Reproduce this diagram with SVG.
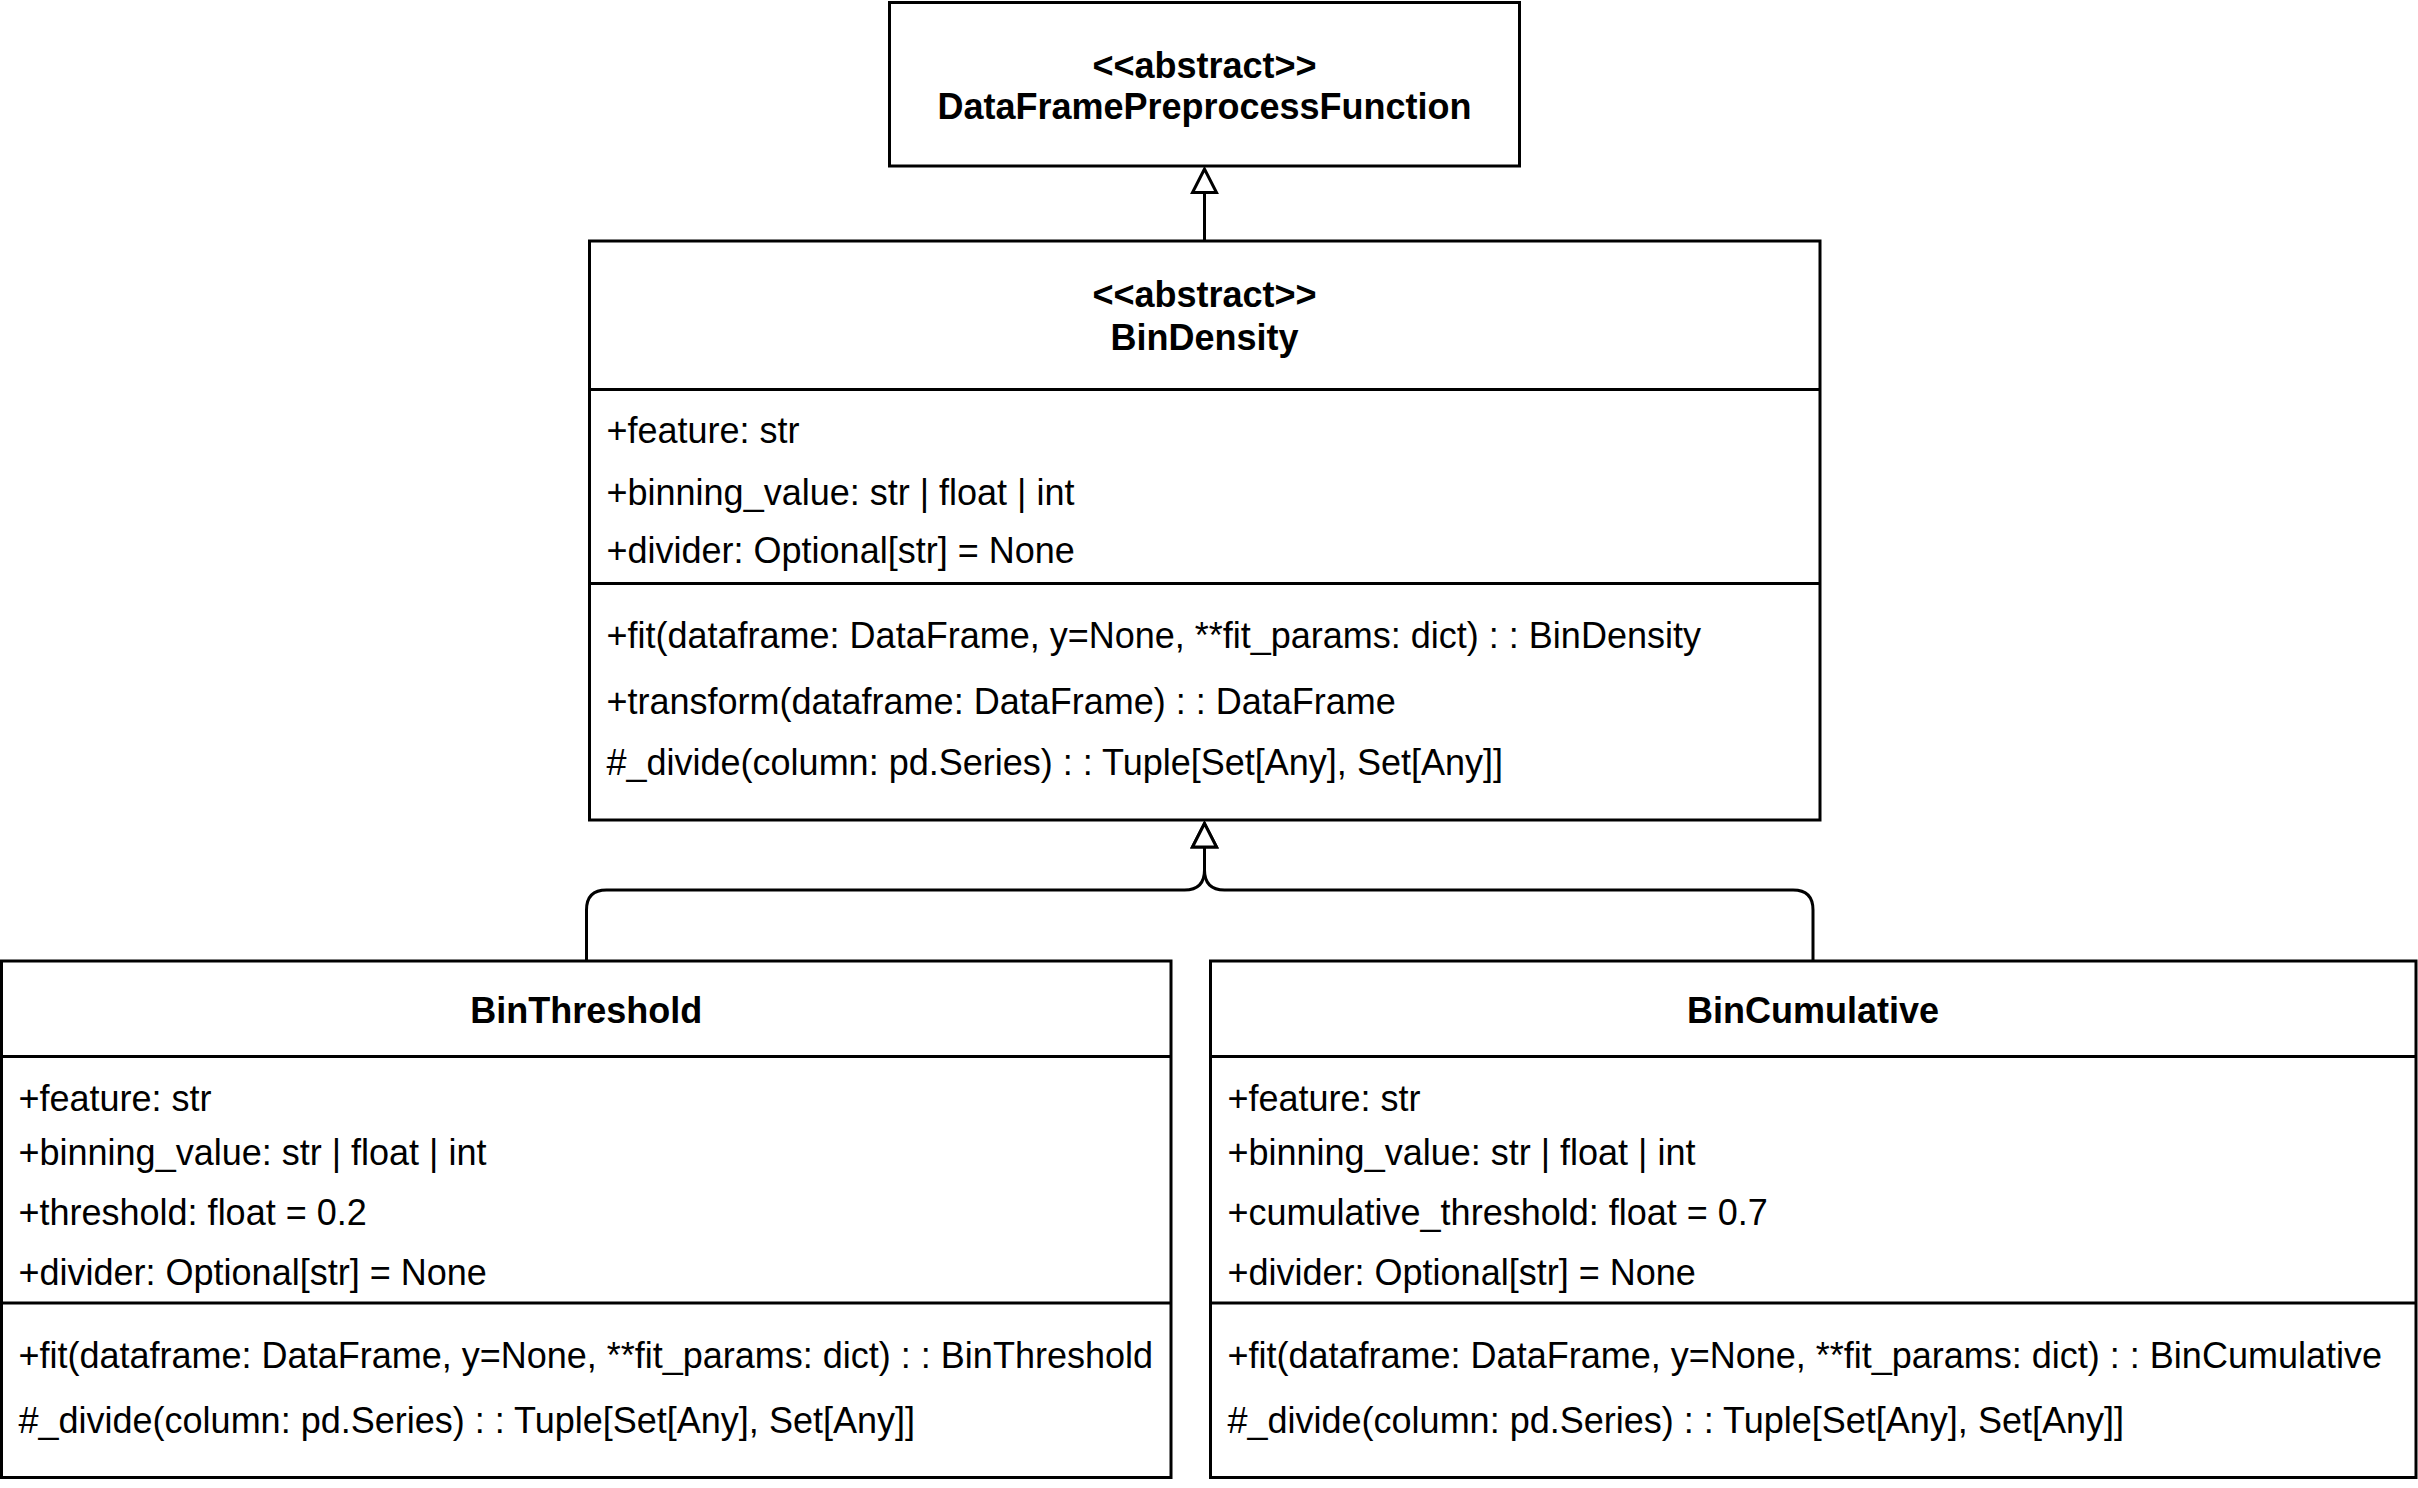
<svg xmlns="http://www.w3.org/2000/svg" width="2418" height="1488" viewBox="0 0 2418 1488">
<style>
.box{fill:#fff;stroke:#000;stroke-width:3}
.div{stroke:#000;stroke-width:3;fill:none}
.edge{stroke:#000;stroke-width:3;fill:none}
text{font-family:"Liberation Sans",Arial,Helvetica,sans-serif;font-size:36px;fill:#000}
.t{font-weight:bold;text-anchor:middle}
</style>
<defs>
<marker id="inh" markerUnits="userSpaceOnUse" viewBox="-28 -16 32 32" refX="0" refY="0" markerWidth="32" markerHeight="32" orient="auto">
<path d="M0,0 L-23.5,-12 L-23.5,12 Z" fill="#fff" stroke="#000" stroke-width="3"/>
</marker>
</defs>
<rect width="2418" height="1488" fill="#fff"/>
<g id="connectors">
<path class="edge" d="M1204.5,241 V169" marker-end="url(#inh)"/>
<path class="edge" d="M586.5,961 V910 Q586.5,890 606.5,890 H1184.5 Q1204.5,890 1204.5,870 V823.5" marker-end="url(#inh)"/>
<path class="edge" d="M1813,961 V910 Q1813,890 1793,890 H1224.5 Q1204.5,890 1204.5,870 V823.5" marker-end="url(#inh)"/>
</g>
<g id="DataFramePreprocessFunction">
<rect class="box" x="889.5" y="2.5" width="630" height="163.5"/>
<text class="t" x="1204.5" y="77.5">&lt;&lt;abstract&gt;&gt;</text>
<text class="t" x="1204.5" y="119">DataFramePreprocessFunction</text>
</g>
<g id="BinDensity">
<rect class="box" x="589.5" y="241" width="1230.5" height="579"/>
<line class="div" x1="589.5" y1="389.5" x2="1820" y2="389.5"/>
<line class="div" x1="589.5" y1="583.5" x2="1820" y2="583.5"/>
<text class="t" x="1204.5" y="307">&lt;&lt;abstract&gt;&gt;</text>
<text class="t" x="1204.5" y="350.3">BinDensity</text>
<text x="606.5" y="443">+feature: str</text>
<text x="606.5" y="504.5">+binning_value: str | float | int</text>
<text x="606.5" y="563">+divider: Optional[str] = None</text>
<text x="606.5" y="648">+fit(dataframe: DataFrame, y=None, **fit_params: dict) : : BinDensity</text>
<text x="606.5" y="714">+transform(dataframe: DataFrame) : : DataFrame</text>
<text x="606.5" y="774.5">#_divide(column: pd.Series) : : Tuple[Set[Any], Set[Any]]</text>
</g>
<g id="BinThreshold">
<rect class="box" x="1.5" y="961" width="1169.5" height="516.5"/>
<line class="div" x1="1.5" y1="1056.5" x2="1171" y2="1056.5"/>
<line class="div" x1="1.5" y1="1303" x2="1171" y2="1303"/>
<text class="t" x="586.3" y="1022.6">BinThreshold</text>
<text x="18.5" y="1110.5">+feature: str</text>
<text x="18.5" y="1164.5">+binning_value: str | float | int</text>
<text x="18.5" y="1224.6">+threshold: float = 0.2</text>
<text x="18.5" y="1284.8">+divider: Optional[str] = None</text>
<text x="18.5" y="1368">+fit(dataframe: DataFrame, y=None, **fit_params: dict) : : BinThreshold</text>
<text x="18.5" y="1433">#_divide(column: pd.Series) : : Tuple[Set[Any], Set[Any]]</text>
</g>
<g id="BinCumulative">
<rect class="box" x="1210.5" y="961" width="1205.5" height="516.5"/>
<line class="div" x1="1210.5" y1="1056.5" x2="2416" y2="1056.5"/>
<line class="div" x1="1210.5" y1="1303" x2="2416" y2="1303"/>
<text class="t" x="1813" y="1022.6">BinCumulative</text>
<text x="1227.5" y="1110.5">+feature: str</text>
<text x="1227.5" y="1164.5">+binning_value: str | float | int</text>
<text x="1227.5" y="1224.6">+cumulative_threshold: float = 0.7</text>
<text x="1227.5" y="1284.8">+divider: Optional[str] = None</text>
<text x="1227.5" y="1368">+fit(dataframe: DataFrame, y=None, **fit_params: dict) : : BinCumulative</text>
<text x="1227.5" y="1433">#_divide(column: pd.Series) : : Tuple[Set[Any], Set[Any]]</text>
</g>
</svg>
